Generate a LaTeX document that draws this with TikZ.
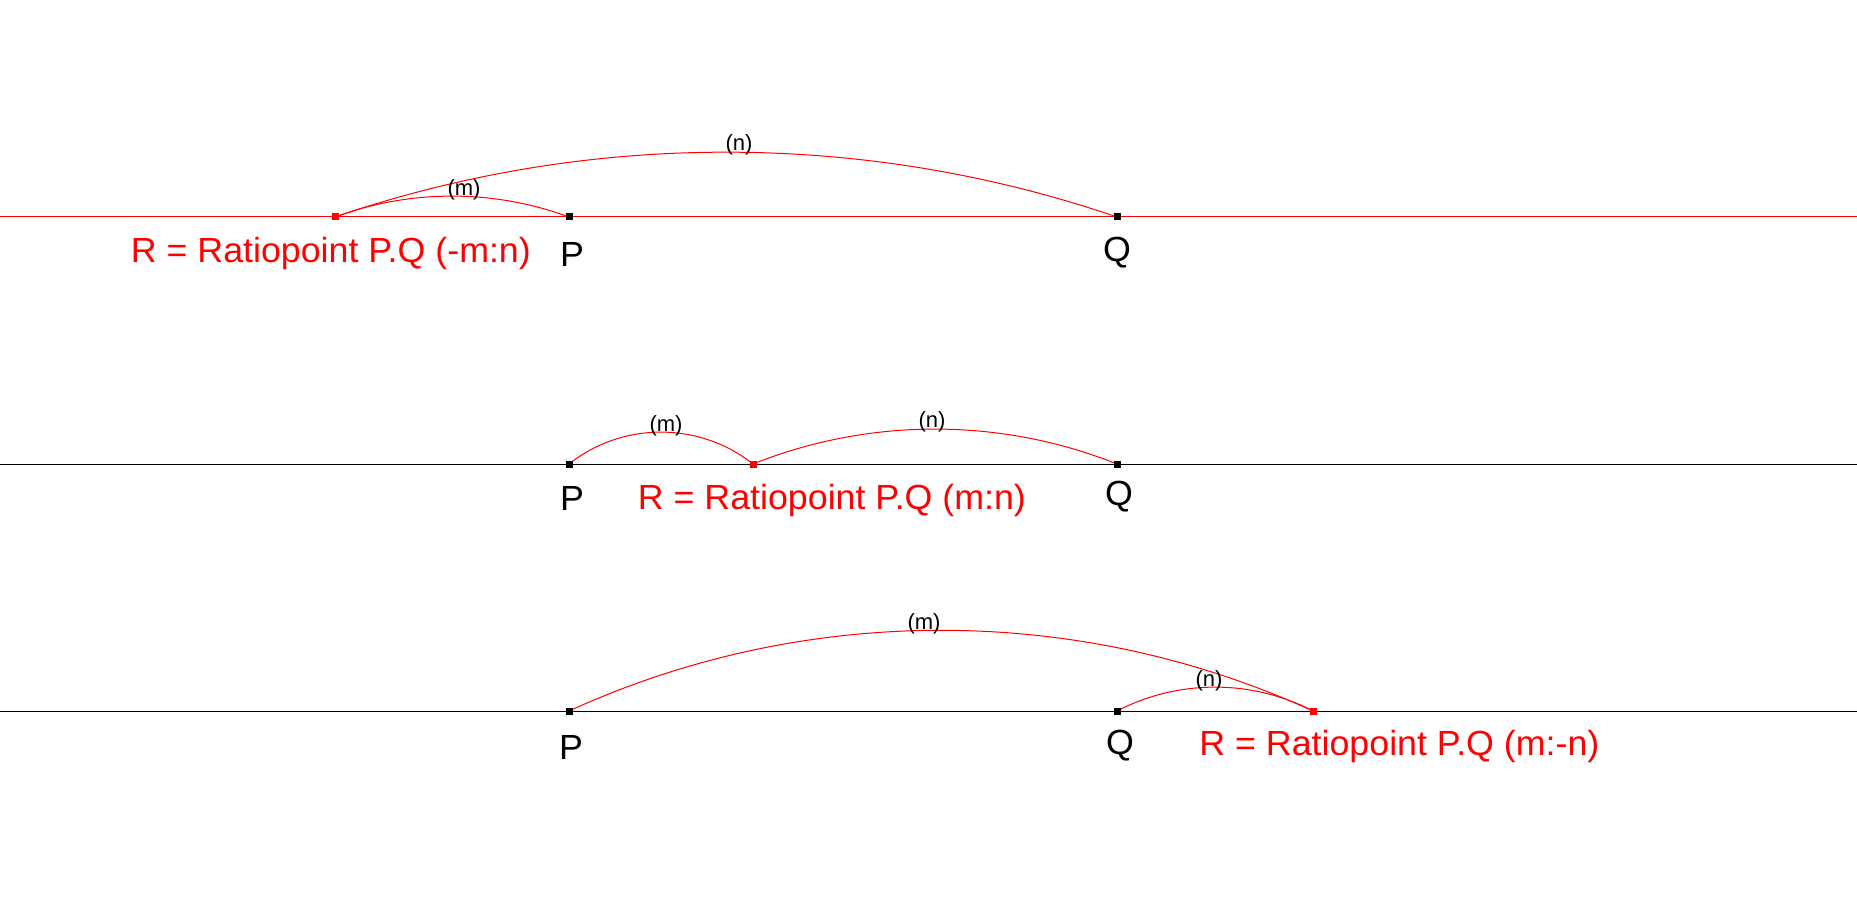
\documentclass[tikz,border=0pt]{standalone}
\usepackage{fontspec}
\setmainfont{Liberation Sans}
\newfontfamily\bigfont{Liberation Sans}[FakeStretch=1.025]
\begin{document}
\begin{tikzpicture}[x=0.5pt,y=0.5pt,
  pt/.style={rectangle,fill=black,inner sep=0pt,minimum size=3.5pt},
  rpt/.style={pt,fill=red},
  arcline/.style={red,line width=0.5pt},
  axisline/.style={line width=0.5pt},
  big/.style={font=\bigfont\fontsize{17.45}{20}\selectfont,inner sep=0pt},
  small/.style={font=\fontsize{11}{13}\selectfont,inner sep=0pt,anchor=base},
]
\fill[white] (0,0) rectangle (1857,-914);
\useasboundingbox (0,0) rectangle (1857,-914);

% ---------- Row 1 ----------
\coordinate (L1) at (0,-217);
\coordinate (E1) at (1857,-217);
\coordinate (R1) at (335,-217);
\coordinate (P1) at (569,-217);
\coordinate (Q1) at (1117,-217);
\draw[axisline,red] (L1) -- (E1);
\draw[arcline] (R1) to[bend left=20.35,looseness=0.878] (P1);
\draw[arcline] (R1) to[bend left=18.9,looseness=0.875] (Q1);
\node[rpt] (r1pt) at (R1) {};
\node[pt] (p1pt) at (P1) {};
\node[pt] (q1pt) at (Q1) {};
\node[big,red,anchor=base west] (r1lab) at (130.5,-263) {R = Ratiopoint P.Q (-m:n)};
\node[big,anchor=base] (p1lab) at (572,-267) {P};
\node[big,anchor=base] (q1lab) at (1117,-262) {Q};
\node[small] (m1) at (464,-196) {(m)};
\node[small] (n1) at (739,-151) {(n)};

% ---------- Row 2 ----------
\coordinate (L2) at (0,-464);
\coordinate (E2) at (1857,-464);
\coordinate (P2) at (569,-464);
\coordinate (R2) at (753,-464);
\coordinate (Q2) at (1117,-464);
\draw[axisline] (L2) -- (E2);
\draw[arcline] (P2) to[bend left=38.4,looseness=0.954] (R2);
\draw[arcline] (R2) to[bend left=21.8,looseness=0.883] (Q2);
\node[pt] (p2pt) at (P2) {};
\node[rpt] (r2pt) at (R2) {};
\node[pt] (q2pt) at (Q2) {};
\node[big,red,anchor=base west] (r2lab) at (637.5,-509) {R = Ratiopoint P.Q (m:n)};
\node[big,anchor=base] (p2lab) at (572,-510) {P};
\node[big,anchor=base] (q2lab) at (1119,-505) {Q};
\node[small] (m2) at (666,-431) {(m)};
\node[small] (n2) at (932,-428) {(n)};

% ---------- Row 3 ----------
\coordinate (L3) at (0,-711);
\coordinate (E3) at (1857,-711);
\coordinate (P3) at (569,-711);
\coordinate (Q3) at (1117,-711);
\coordinate (R3) at (1313,-711);
\draw[axisline] (L3) -- (E3);
\draw[arcline] (P3) to[bend left=24.6,looseness=0.891] (R3);
\draw[arcline] (Q3) to[bend left=27.5,looseness=0.902] (R3);
\node[pt] (p3pt) at (P3) {};
\node[pt] (q3pt) at (Q3) {};
\node[rpt] (r3pt) at (R3) {};
\node[big,red,anchor=base west] (r3lab) at (1199,-755) {R = Ratiopoint P.Q (m:-n)};
\node[big,anchor=base] (p3lab) at (571,-759) {P};
\node[big,anchor=base] (q3lab) at (1120,-754) {Q};
\node[small] (m3) at (924,-629) {(m)};
\node[small] (n3) at (1209,-686) {(n)};
\end{tikzpicture}
\end{document}
